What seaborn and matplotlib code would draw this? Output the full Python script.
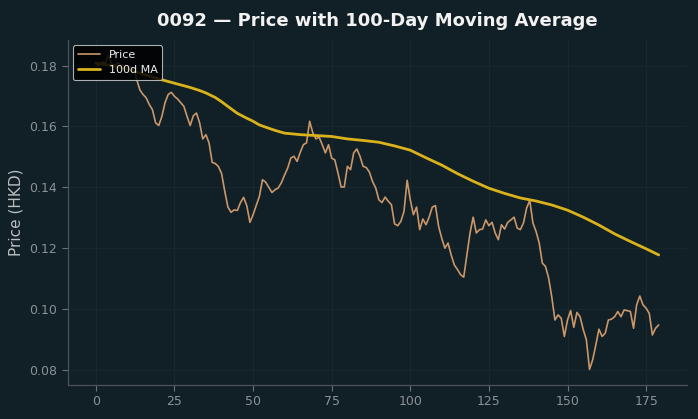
import matplotlib
matplotlib.use("Agg")
import matplotlib.pyplot as plt
import seaborn as sns
import pandas as pd
import numpy as np

# ---- data ----
price = [
    0.1805, 0.1800, 0.1812, 0.1808, 0.1833, 0.1805, 0.1800, 0.1810, 0.1802, 0.1798,
    0.1800, 0.1796, 0.1790, 0.1754, 0.1720, 0.1705, 0.1694, 0.1672, 0.1655, 0.1612,
    0.1603, 0.1633, 0.1678, 0.1705, 0.1712, 0.1699, 0.1690, 0.1678, 0.1666, 0.1633,
    0.1603, 0.1635, 0.1644, 0.1612, 0.1559, 0.1573, 0.1546, 0.1482, 0.1478, 0.1468,
    0.1445, 0.1387, 0.1335, 0.1318, 0.1326, 0.1324, 0.1350, 0.1367, 0.1340, 0.1285,
    0.1310, 0.1340, 0.1370, 0.1425, 0.1417, 0.1400, 0.1383, 0.1392, 0.1398, 0.1415,
    0.1440, 0.1463, 0.1496, 0.1502, 0.1485, 0.1515, 0.1540, 0.1546, 0.1617, 0.1579,
    0.1559, 0.1565, 0.1540, 0.1513, 0.1540, 0.1496, 0.1490, 0.1447, 0.1401, 0.1401,
    0.1469, 0.1458, 0.1513, 0.1526, 0.1502, 0.1469, 0.1465, 0.1450, 0.1419, 0.1398,
    0.1359, 0.1350, 0.1368, 0.1354, 0.1343, 0.1280, 0.1274, 0.1288, 0.1321, 0.1423,
    0.1359, 0.1310, 0.1335, 0.1261, 0.1296, 0.1277, 0.1302, 0.1335, 0.1340, 0.1272,
    0.1233, 0.1200, 0.1217, 0.1178, 0.1145, 0.1130, 0.1113, 0.1105, 0.1178, 0.1250,
    0.1302, 0.1250, 0.1261, 0.1263, 0.1293, 0.1274, 0.1285, 0.1250, 0.1228, 0.1277,
    0.1263, 0.1285, 0.1293, 0.1302, 0.1266, 0.1261, 0.1283, 0.1332, 0.1357, 0.1283,
    0.1255, 0.1217, 0.1151, 0.1140, 0.1102, 0.1040, 0.0964, 0.0981, 0.0970, 0.0910,
    0.0964, 0.0995, 0.0940, 0.0989, 0.0975, 0.0933, 0.0899, 0.0802, 0.0833, 0.0882,
    0.0934, 0.0910, 0.0921, 0.0964, 0.0967, 0.0975, 0.0992, 0.0975, 0.0997, 0.0995,
    0.0992, 0.0937, 0.1014, 0.1043, 0.1014, 0.1003, 0.0986, 0.0915, 0.0937, 0.0948,
]
days = list(range(len(price)))

ma_days = [0, 5, 10, 15, 20, 25, 30, 33, 35, 38, 40, 43, 45, 48, 50, 52, 55, 57, 60,
           65, 70, 75, 80, 85, 90, 95, 100, 105, 110, 115, 120, 125, 130, 135, 140,
           145, 150, 155, 160, 165, 170, 175, 179]
ma_vals = [0.1808, 0.1800, 0.1789, 0.1772, 0.1756, 0.1742, 0.1728, 0.1718, 0.1710,
           0.1695, 0.1681, 0.1658, 0.1643, 0.1627, 0.1617, 0.1605, 0.1594, 0.1587,
           0.1578, 0.1573, 0.1570, 0.1567, 0.1559, 0.1554, 0.1548, 0.1536, 0.1522,
           0.1497, 0.1473, 0.1445, 0.1420, 0.1397, 0.1380, 0.1365, 0.1355, 0.1342,
           0.1325, 0.1302, 0.1276, 0.1247, 0.1222, 0.1198, 0.1178]

title = "0092 \u2014 Price with 100-Day Moving Average"
ylabel = "Price (HKD)"

# ---- style ----
BG = "#111f26"
sns.set_theme(style="dark", rc={
    "figure.facecolor": BG,
    "axes.facecolor": BG,
    "axes.edgecolor": "#4a5358",
    "grid.color": "#1b2a31",
    "axes.grid": True,
    "xtick.color": "#8a9296",
    "ytick.color": "#8a9296",
    "axes.labelcolor": "#b9bec1",
    "text.color": "#eeeeee",
})
plt.rcParams["font.family"] = ["DejaVu Sans"]

fig, ax = plt.subplots(figsize=(6.98, 4.19), dpi=100)
fig.subplots_adjust(left=0.097, right=0.984, top=0.905, bottom=0.081)

df_p = pd.DataFrame({"day": days, "price": price})
df_m = pd.DataFrame({"day": ma_days, "ma": ma_vals})

sns.lineplot(data=df_p, x="day", y="price", ax=ax, color="#c9976a",
             linewidth=1.2, label="Price")
sns.lineplot(data=df_m, x="day", y="ma", ax=ax, color="#d9b21c",
             linewidth=2.0, label="100d MA")

ax.set_title(title, fontsize=13, fontweight="bold", color="#f2f2f2", pad=10)
ax.set_xlabel("")
ax.set_ylabel(ylabel, fontsize=11, color="#b9bec1")
ax.set_xticks([0, 25, 50, 75, 100, 125, 150, 175])
ax.set_yticks([0.08, 0.10, 0.12, 0.14, 0.16, 0.18])
ax.set_yticklabels(["0.08", "0.10", "0.12", "0.14", "0.16", "0.18"])
ax.tick_params(axis="both", labelsize=9, length=4, width=0.8,
               colors="#8a9296", bottom=True, left=True)
ax.tick_params(axis="both", color="#6a7276")
ax.grid(True, color="#18262d", linewidth=0.8)

for s in ["top", "right"]:
    ax.spines[s].set_visible(False)
for s in ["left", "bottom"]:
    ax.spines[s].set_color("#4a5358")
    ax.spines[s].set_linewidth(0.9)

leg = ax.legend(loc="upper left", fontsize=8, facecolor="#000000",
                edgecolor="#c8cdd0", framealpha=0.85, labelcolor="#eeeeee",
                borderpad=0.4, handlelength=2.0)
leg.get_frame().set_linewidth(0.8)

fig.savefig("out.png", dpi=100, facecolor=BG)
